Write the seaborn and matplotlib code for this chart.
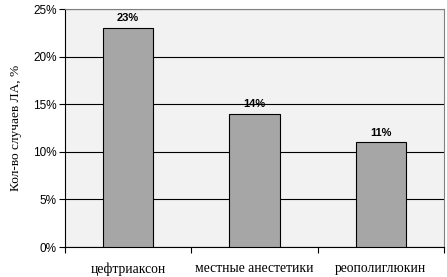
import matplotlib
matplotlib.use("Agg")
import matplotlib.pyplot as plt
import seaborn as sns
import pandas as pd
from matplotlib.ticker import FuncFormatter, MultipleLocator

categories = ["цефтриаксон", "местные анестетики", "реополиглюкин"]
values = [23, 14, 11]
labels = ["23%", "14%", "11%"]

df = pd.DataFrame({"cat": categories, "val": values})

sns.set_style("white")
plt.rcParams["text.color"] = "black"
plt.rcParams["xtick.color"] = "black"
plt.rcParams["ytick.color"] = "black"
plt.rcParams["axes.labelcolor"] = "black"
fig = plt.figure(figsize=(4.47, 2.77), dpi=100)
ax = fig.add_axes([65/447, 1-247/277, (444-65)/447, (247-9)/277])
ax.set_facecolor("#F2F2F2")
sns.barplot(data=df, x="cat", y="val", color="#A6A6A6", edgecolor="black",
            linewidth=0.8, width=0.4, saturation=1, ax=ax, zorder=3)
ax.set_ylim(0, 25)
ax.set_xlim(-0.5, 2.5)
ax.yaxis.set_major_locator(MultipleLocator(5))
ax.yaxis.set_major_formatter(FuncFormatter(lambda v, p: f"{int(v)}%"))
ax.grid(axis="y", color="black", linewidth=0.8, zorder=1)
ax.set_axisbelow(True)
for s in ["top", "right"]:
    ax.spines[s].set_color("#808080")
    ax.spines[s].set_linewidth(0.8)
for s in ["left", "bottom"]:
    ax.spines[s].set_color("black")
    ax.spines[s].set_linewidth(0.8)
ax.set_xticks([-0.5, 0.5, 1.5, 2.5], minor=False)
ax.set_xticklabels([])
ax.set_xticks([0, 1, 2], minor=True)
ax.set_xticklabels(categories, minor=True, fontfamily="Liberation Serif", fontsize=9.8, color="black")
ax.tick_params(axis="x", which="major", direction="out", length=4, color="black", width=0.8, bottom=True)
ax.tick_params(axis="x", which="minor", length=0, pad=11)
ax.tick_params(axis="y", direction="out", length=4, color="black", width=0.8, left=True, labelsize=8.5, pad=2, labelcolor="black")
for t in ax.get_yticklabels():
    t.set_fontfamily("Liberation Sans")
ax.set_xlabel("")
ax.set_ylabel("Кол-во случаев ЛА, %", fontfamily="Liberation Serif", fontsize=9.6, labelpad=8, color="black")
for i, (v, l) in enumerate(zip(values, labels)):
    ax.text(i, v + 0.5, l, ha="center", va="bottom", fontsize=8, fontweight="bold",
            fontfamily="Liberation Sans", color="black")
fig.savefig("out.png", dpi=100)
